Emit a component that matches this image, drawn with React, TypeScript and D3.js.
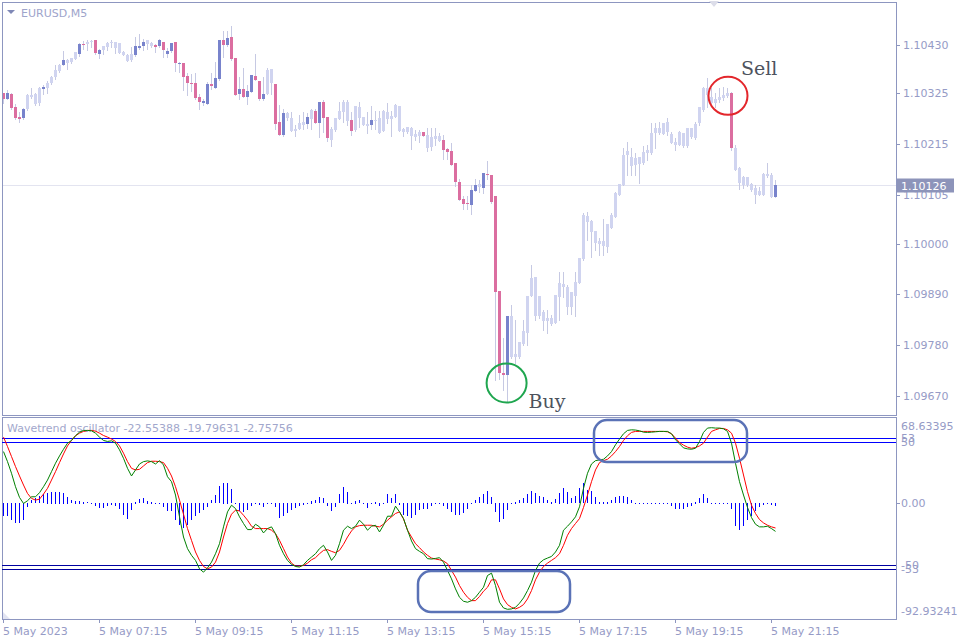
import React from "react";
import * as d3 from "d3";

// ---------- price data (EURUSD, M5) ----------
const open = [
  1.10326,1.10313,1.10324,1.10295,1.10274,1.10272,1.10291,1.10321,1.10302,1.10304,
  1.10334,1.10336,1.10347,1.10360,1.10373,1.10386,1.10397,1.10393,1.10399,1.10410,
  1.10432,1.10432,1.10436,1.10440,1.10410,1.10419,1.10425,1.10434,1.10436,1.10434,
  1.10414,1.10408,1.10397,1.10408,1.10423,1.10427,1.10432,1.10434,1.10430,1.10427,
  1.10436,1.10410,1.10417,1.10436,1.10388,1.10391,1.10362,1.10347,1.10347,1.10317,
  1.10304,1.10302,1.10345,1.10336,1.10356,1.10440,1.10430,1.10447,1.10401,1.10324,
  1.10334,1.10317,1.10328,1.10362,1.10352,1.10313,1.10324,1.10378,1.10345,1.10263,
  1.10235,1.10282,1.10271,1.10243,1.10248,1.10256,1.10258,1.10269,1.10287,1.10261,
  1.10306,1.10274,1.10224,1.10245,1.10269,1.10285,1.10306,1.10267,1.10245,1.10295,
  1.10274,1.10258,1.10256,1.10267,1.10271,1.10243,1.10285,1.10269,1.10274,1.10297,
  1.10248,1.10241,1.10250,1.10237,1.10233,1.10241,1.10235,1.10209,1.10226,1.10233,
  1.10224,1.10204,1.10200,1.10174,1.10133,1.10096,1.10088,1.10083,1.10113,1.10122,
  1.10120,1.10150,1.10148,1.10103,1.09897,1.09719,1.09715,1.09843,1.09754,1.09754,
  1.09782,1.09806,1.09886,1.09927,1.09843,1.09852,1.09832,1.09839,1.09828,1.09884,
  1.09912,1.09906,1.09862,1.09886,1.09914,1.09966,1.10059,1.10048,1.10027,1.10005,
  1.09994,1.09992,1.10033,1.10057,1.10105,1.10126,1.10191,1.10187,1.10170,1.10187,
  1.10174,1.10196,1.10196,1.10239,1.10250,1.10237,1.10263,1.10237,1.10220,1.10213,
  1.10239,1.10211,1.10250,1.10228,1.10261,1.10289,1.10336,1.10317,1.10304,1.10310,
  1.10315,1.10319,1.10326,1.10207,1.10163,1.10126,1.10144,1.10129,1.10120,1.10105,
  1.10105,1.10150,1.10148,1.10100,
];
const high = [
  1.10326,1.10332,1.10326,1.10302,1.10285,1.10293,1.10324,1.10336,1.10326,1.10339,
  1.10343,1.10352,1.10362,1.10386,1.10388,1.10417,1.10399,1.10401,1.10414,1.10434,
  1.10438,1.10440,1.10440,1.10440,1.10421,1.10427,1.10436,1.10440,1.10436,1.10434,
  1.10417,1.10410,1.10425,1.10447,1.10453,1.10443,1.10440,1.10436,1.10432,1.10443,
  1.10436,1.10423,1.10434,1.10436,1.10393,1.10391,1.10369,1.10367,1.10369,1.10324,
  1.10313,1.10349,1.10369,1.10393,1.10440,1.10460,1.10460,1.10471,1.10401,1.10360,
  1.10380,1.10343,1.10365,1.10410,1.10352,1.10360,1.10380,1.10378,1.10345,1.10300,
  1.10291,1.10285,1.10285,1.10256,1.10278,1.10285,1.10282,1.10291,1.10291,1.10306,
  1.10310,1.10274,1.10252,1.10271,1.10306,1.10310,1.10310,1.10285,1.10297,1.10306,
  1.10274,1.10285,1.10297,1.10287,1.10287,1.10289,1.10304,1.10287,1.10302,1.10297,
  1.10250,1.10252,1.10252,1.10245,1.10245,1.10241,1.10250,1.10250,1.10250,1.10239,
  1.10235,1.10207,1.10217,1.10174,1.10139,1.10103,1.10103,1.10126,1.10139,1.10137,
  1.10152,1.10178,1.10148,1.10103,1.09897,1.09795,1.09843,1.09867,1.09834,1.09787,
  1.09834,1.09886,1.09953,1.09927,1.09886,1.09856,1.09856,1.09845,1.09888,1.09938,
  1.09938,1.09910,1.09895,1.09938,1.09968,1.10066,1.10068,1.10051,1.10027,1.10012,
  1.10053,1.10042,1.10066,1.10111,1.10129,1.10207,1.10220,1.10207,1.10196,1.10187,
  1.10211,1.10213,1.10261,1.10261,1.10263,1.10261,1.10271,1.10241,1.10228,1.10243,
  1.10239,1.10250,1.10250,1.10263,1.10295,1.10339,1.10358,1.10336,1.10326,1.10336,
  1.10339,1.10336,1.10328,1.10213,1.10165,1.10146,1.10144,1.10131,1.10126,1.10122,
  1.10152,1.10174,1.10152,1.10137,
];
const low = [
  1.10304,1.10313,1.10291,1.10269,1.10263,1.10269,1.10289,1.10315,1.10300,1.10300,
  1.10324,1.10326,1.10345,1.10356,1.10371,1.10386,1.10378,1.10391,1.10399,1.10406,
  1.10421,1.10419,1.10425,1.10410,1.10401,1.10410,1.10419,1.10425,1.10412,1.10412,
  1.10408,1.10395,1.10395,1.10406,1.10421,1.10419,1.10421,1.10425,1.10414,1.10425,
  1.10404,1.10404,1.10414,1.10373,1.10371,1.10332,1.10321,1.10330,1.10313,1.10291,
  1.10300,1.10302,1.10334,1.10336,1.10354,1.10404,1.10427,1.10397,1.10321,1.10313,
  1.10317,1.10302,1.10328,1.10354,1.10310,1.10310,1.10324,1.10324,1.10248,1.10235,
  1.10233,1.10267,1.10243,1.10233,1.10248,1.10248,1.10250,1.10248,1.10261,1.10230,
  1.10241,1.10222,1.10211,1.10243,1.10269,1.10263,1.10256,1.10235,1.10243,1.10252,
  1.10256,1.10239,1.10248,1.10248,1.10239,1.10243,1.10261,1.10233,1.10274,1.10243,
  1.10233,1.10239,1.10204,1.10224,1.10220,1.10233,1.10200,1.10202,1.10213,1.10222,
  1.10183,1.10183,1.10170,1.10124,1.10094,1.10075,1.10075,1.10064,1.10113,1.10111,
  1.10109,1.10139,1.10088,1.09704,1.09706,1.09683,1.09657,1.09752,1.09741,1.09752,
  1.09780,1.09780,1.09886,1.09834,1.09839,1.09813,1.09806,1.09823,1.09828,1.09834,
  1.09884,1.09847,1.09847,1.09843,1.09914,1.09964,1.10007,1.09971,1.09986,1.09975,
  1.09975,1.09981,1.10033,1.10057,1.10105,1.10126,1.10148,1.10148,1.10148,1.10131,
  1.10172,1.10181,1.10194,1.10207,1.10237,1.10237,1.10235,1.10217,1.10202,1.10213,
  1.10209,1.10209,1.10228,1.10226,1.10256,1.10287,1.10295,1.10304,1.10295,1.10306,
  1.10310,1.10317,1.10202,1.10159,1.10118,1.10120,1.10124,1.10113,1.10088,1.10105,
  1.10105,1.10144,1.10100,1.10100,
];
const close = [
  1.10313,1.10326,1.10293,1.10272,1.10269,1.10291,1.10321,1.10317,1.10324,1.10336,
  1.10339,1.10347,1.10360,1.10375,1.10386,1.10397,1.10391,1.10401,1.10414,1.10432,
  1.10430,1.10436,1.10438,1.10412,1.10419,1.10427,1.10434,1.10436,1.10423,1.10412,
  1.10408,1.10395,1.10410,1.10427,1.10427,1.10436,1.10440,1.10427,1.10425,1.10440,
  1.10419,1.10417,1.10434,1.10391,1.10391,1.10360,1.10347,1.10345,1.10315,1.10306,
  1.10308,1.10345,1.10341,1.10358,1.10440,1.10430,1.10445,1.10399,1.10321,1.10334,
  1.10317,1.10330,1.10365,1.10354,1.10313,1.10324,1.10375,1.10347,1.10258,1.10235,
  1.10282,1.10271,1.10243,1.10248,1.10261,1.10263,1.10274,1.10289,1.10261,1.10306,
  1.10271,1.10228,1.10248,1.10271,1.10287,1.10306,1.10265,1.10243,1.10297,1.10271,
  1.10256,1.10254,1.10267,1.10265,1.10239,1.10287,1.10269,1.10276,1.10300,1.10243,
  1.10241,1.10252,1.10233,1.10230,1.10241,1.10233,1.10207,1.10230,1.10233,1.10222,
  1.10202,1.10198,1.10170,1.10133,1.10094,1.10085,1.10085,1.10116,1.10126,1.10129,
  1.10152,1.10148,1.10090,1.09895,1.09719,1.09715,1.09843,1.09754,1.09761,1.09787,
  1.09810,1.09886,1.09925,1.09843,1.09886,1.09832,1.09839,1.09826,1.09888,1.09914,
  1.09906,1.09862,1.09895,1.09916,1.09968,1.10062,1.10046,1.10025,1.10001,1.09999,
  1.10005,1.10042,1.10062,1.10109,1.10129,1.10191,1.10200,1.10168,1.10185,1.10172,
  1.10198,1.10202,1.10239,1.10250,1.10239,1.10261,1.10241,1.10217,1.10213,1.10241,
  1.10211,1.10250,1.10230,1.10258,1.10295,1.10336,1.10321,1.10304,1.10313,1.10317,
  1.10321,1.10326,1.10207,1.10159,1.10131,1.10144,1.10126,1.10116,1.10105,1.10113,
  1.10150,1.10146,1.10100,1.10126,
];
// bars drawn in full colour (the rest are faded in the reference)
const highlighted = [
  0,1,2,3,4,5,10,15,19,20,23,24,33,34,35,38,39,40,41,42,43,44,45,46,47,48,49,50,
  51,52,53,54,55,56,57,58,59,60,61,62,63,64,65,68,69,70,76,78,79,80,81,87,92,105,
  110,111,112,113,114,115,116,117,118,120,121,122,123,124,125,126,182,193,
];

// ---------- Wavetrend oscillator ----------
const wt1 = [
  41.9,33.8,24.4,13.5,4.9,0,2.2,5.4,5.4,8.7,
  13.5,18.9,25.7,32.5,38.4,43.8,48.7,50.9,54.7,57.6,
  59.0,59.0,58.7,56.8,53.6,50.9,50.1,50.6,48.7,43.3,
  36.5,28.4,22.2,27.1,31.9,33.8,34.4,33.8,31.9,34.6,
  31.1,21.6,17.6,6.8,-10.8,-27.1,-36.5,-41.9,-46.0,-52.8,
  -55.5,-52.0,-47.4,-40.6,-32.5,-18.9,-6.8,-1.4,-4.1,-10.8,
  -16.2,-21.1,-21.1,-16.8,-18.9,-23.8,-20.3,-18.9,-24.4,-33.8,
  -40.6,-46.0,-49.2,-50.9,-51.4,-49.5,-46.0,-43.3,-40.6,-36.5,
  -33.8,-39.2,-46.0,-41.9,-32.5,-21.6,-18.4,-20.3,-18.4,-13.5,
  -16.8,-21.6,-18.4,-17.6,-23.0,-17.6,-10.3,-10.3,-2.2,-6.8,
  -12.2,-21.6,-30.3,-36.5,-38.7,-40.6,-44.6,-44.9,-44.4,-43.8,
  -47.4,-54.1,-60.9,-69.0,-75.8,-79.0,-79.8,-78.5,-75.8,-71.7,
  -67.7,-58.2,-56.3,-66.3,-79.8,-84.4,-85.5,-85.2,-83.9,-80.6,
  -76.3,-70.4,-63.6,-54.1,-48.2,-45.5,-44.1,-42.8,-39.2,-33.8,
  -21.6,-18.4,-14.9,-10.8,-2.7,12.2,24.4,31.9,34.6,35.2,
  35.7,38.4,41.9,47.4,52.0,56.3,59.0,59.5,59.3,58.7,
  57.6,57.4,57.6,57.9,58.2,58.2,58.2,56.3,51.4,48.2,
  44.9,44.1,43.8,44.6,50.1,57.4,60.9,61.2,60.9,60.9,
  60.3,58.2,48.7,32.5,17.6,6.8,-3.2,-11.4,-16.8,-18.9,
  -18.9,-18.4,-20.3,-22.55,
];
const wt2 = [
  53.6,46.0,37.9,29.8,22.2,14.9,8.1,4.1,2.7,3.5,
  7.6,12.2,18.9,25.7,33.0,40.0,46.5,50.9,54.7,56.8,
  58.2,59.0,59.0,58.4,56.8,54.9,53.6,52.0,50.1,46.5,
  40.6,33.8,28.4,27.1,27.6,30.3,33.0,34.1,34.1,33.8,
  33.0,28.4,22.2,13.5,2.7,-8.7,-20.3,-29.8,-39.2,-46.0,
  -50.9,-52.8,-51.4,-47.4,-39.2,-27.1,-16.2,-8.7,-5.4,-6.0,
  -9.5,-13.5,-18.4,-20.3,-20.3,-20.3,-20.3,-21.6,-24.4,-29.8,
  -36.5,-43.3,-48.2,-50.6,-50.6,-50.1,-48.2,-45.5,-43.8,-40.6,
  -37.9,-37.3,-38.7,-39.8,-37.9,-33.0,-27.1,-22.2,-18.9,-17.9,
  -17.6,-17.6,-17.6,-18.4,-18.9,-16.8,-13.5,-10.8,-8.1,-6.8,
  -12.5,-21.6,-27.1,-32.5,-35.7,-39.2,-41.9,-44.1,-44.9,-45.5,
  -46.5,-48.7,-54.1,-59.5,-66.3,-71.7,-75.8,-78.5,-78.5,-75.2,
  -70.9,-67.7,-61.7,-61.7,-69.0,-77.1,-81.7,-83.9,-85.2,-83.9,
  -81.7,-77.1,-70.4,-61.7,-55.5,-50.9,-48.2,-46.0,-43.8,-40.6,
  -33.8,-25.7,-20.3,-16.2,-12.2,-3.2,6.8,17.6,27.1,33.0,
  34.6,35.7,38.4,41.9,46.0,50.9,54.7,57.4,58.2,58.2,
  58.2,58.2,58.2,58.2,58.2,58.2,57.9,56.3,52.8,49.2,
  47.1,45.5,44.6,45.2,46.5,48.7,53.6,58.2,59.5,60.6,
  60.6,59.5,56.8,48.7,36.5,23.0,9.5,-1.4,-8.1,-13.0,
  -15.7,-17.6,-18.9,-19.80,
];
const hist = [
  -10.8,-10.8,-13.5,-16.2,-16.2,-13.5,-3.2,2.7,4.1,6.0,
  7.6,8.7,9.5,9.5,9.5,8.7,5.4,2.7,2.2,2.2,
  1.4,0.8,0.3,-2.2,-4.1,-4.1,-2.2,-1.4,-2.7,-4.9,
  -9.5,-12.7,-5.4,1.4,3.2,4.1,2.2,1.4,0.3,0.5,
  -3.2,-6.8,-6.8,-13.5,-17.6,-20.3,-17.6,-13.5,-10.3,-8.1,
  -6.0,-3.2,2.7,6.8,14.1,16.8,16.8,11.4,0.5,-6.8,
  -7.6,-6.0,-2.7,0.5,-1.4,-3.2,0.3,0.3,-3.2,-12.2,
  -10.8,-8.1,-5.4,-4.1,-2.2,-1.4,0.5,2.2,2.7,4.9,
  4.1,-2.2,-6.8,-3.2,7.6,13.0,9.5,0.3,2.2,2.7,
  -0.5,-4.1,0.5,1.4,-2.2,0.3,7.6,4.1,7.6,-1.4,
  -9.5,-10.8,-12.2,-9.5,-5.4,-4.9,-4.9,-2.7,0.0,0.3,
  -2.2,-4.9,-7.6,-9.5,-9.5,-8.1,-4.9,0.5,2.7,4.9,
  7.6,10.3,5.4,-7.6,-15.7,-13.0,-5.4,-0.5,1.4,2.7,
  4.1,7.6,10.3,8.1,6.0,4.9,2.7,1.4,3.2,8.7,
  12.2,9.5,4.1,6.0,12.2,16.2,10.8,10.3,5.4,1.4,
  1.4,1.4,2.7,4.9,6.0,6.0,5.4,2.7,0.5,0.5,
  0.5,0.5,0.0,0.5,0.3,0.3,0.3,-2.2,-4.9,-4.9,
  -4.9,-3.2,-2.2,1.4,4.1,7.6,4.1,0.5,0.3,0.3,
  0.3,0.3,-4.9,-18.4,-21.6,-18.4,-13.5,-10.3,-6.8,-3.2,
  -1.4,-0.5,-1.4,-2.76,
];

// ---------- axes / labels ----------
const symbolTitle = "EURUSD,M5";
const oscTitle = "Wavetrend oscillator -22.55388 -19.79631 -2.75756";
const priceTicks = [1.1043, 1.10325, 1.10215, 1.10105, 1.1, 1.0989, 1.0978, 1.0967];
const priceTickLabels = ["1.10430", "1.10325", "1.10215", "1.10105", "1.10000", "1.09890", "1.09780", "1.09670"];
const lastPrice = 1.10126;
const lastPriceLabel = "1.10126";
const oscMax = 68.63395;
const oscMin = -92.93241;
const oscMaxLabel = "68.63395";
const oscMinLabel = "-92.93241";
const oscLevels = [53, 50, -50, -53];
const oscLevelLabels = ["53", "50", "-50", "-53"];
const timeLabels = [
  "5 May 2023", "5 May 07:15", "5 May 09:15", "5 May 11:15", "5 May 13:15",
  "5 May 15:15", "5 May 17:15", "5 May 19:15", "5 May 21:15",
];
const barsPerTimeLabel = 24;

// annotation anchors (bar index / price or oscillator value)
const sellMark = { bar: 181.25, price: 1.1032, text: "Sell" };
const buyMark = { bar: 125.9, price: 1.09698, text: "Buy" };
const topZone = { from: 147.75, to: 186, hi: 67.4, lo: 33.5 };
const bottomZone = { from: 103.75, to: 141.75, hi: -54.6, lo: -87.7 };

const BLUE = "#7883cc";
const PINK = "#db6ea0";
const LIGHT = "#d0d4f0";
const WICK = "#c6c9e3";
const AXIS = "#8d96c0";
const TEXT = "#969bc6";
const FONT = "'DejaVu Sans', Verdana, sans-serif";

export default function App() {
  const n = close.length;
  const L = 2, R = 896;
  const mainTop = 2, mainBottom = 415;
  const subTop = 417, subBottom = 619;

  const x = d3.scaleLinear().domain([0, n - 1]).range([3, 3 + 4 * (n - 1)]);
  const y = d3.scaleLinear().domain([1.0967, 1.1043]).range([396, 45]);
  const yo = d3.scaleLinear().domain([oscMin, oscMax]).range([618.5, 418.5]);
  const hl = new Set(highlighted);

  const line = d3
    .line<number>()
    .x((_, i) => x(i) + 0.5)
    .y((d) => yo(d));

  const yLast = Math.round(y(lastPrice)) + 0.5;

  return (
    <svg
      width={960}
      height={640}
      style={{ position: "fixed", left: 0, top: 0, background: "#fff" }}
      fontFamily={FONT}
    >
      <rect x={0} y={0} width={960} height={640} fill="#fff" />

      {/* last price line */}
      <line x1={L} x2={R} y1={yLast} y2={yLast} stroke="#e3e4f0" />

      {/* candles */}
      <g shapeRendering="crispEdges">
        {close.map((c, i) => {
          const o = open[i];
          const cx = x(i);
          const fill = hl.has(i) ? (c >= o ? BLUE : PINK) : LIGHT;
          const yt = Math.round(y(Math.max(o, c)));
          const yb = Math.round(y(Math.min(o, c)));
          return (
            <g key={i}>
              <line
                x1={cx + 0.5}
                x2={cx + 0.5}
                y1={Math.round(y(high[i]))}
                y2={Math.round(y(low[i])) + 1}
                stroke={WICK}
              />
              <rect x={cx - 1} y={yt} width={3} height={Math.max(1, yb - yt)} fill={fill} />
            </g>
          );
        })}
      </g>

      {/* main frame */}
      <rect x={L + 0.5} y={mainTop + 0.5} width={R - L} height={mainBottom - mainTop} fill="none" stroke={AXIS} shapeRendering="crispEdges" />
      <polygon points="709,1 719,1 714,7" fill="#dcdde9" />

      {/* title */}
      <polygon points="7,10 15,10 11,14" fill="#7f88b6" />
      <text x={21} y={17} fontSize={11} fill="#9ea4cb">{symbolTitle}</text>

      {/* price axis */}
      {priceTicks.map((v, k) => (
        <g key={k}>
          <line x1={R} x2={R + 4} y1={Math.round(y(v)) + 0.5} y2={Math.round(y(v)) + 0.5} stroke={AXIS} />
          <text x={903} y={y(v) + 4} fontSize={11} fill={TEXT}>{priceTickLabels[k]}</text>
        </g>
      ))}
      <rect x={897} y={yLast - 7} width={57} height={14} fill="#8d94ba" />
      <text x={901} y={yLast + 4} fontSize={11} fill="#fff">{lastPriceLabel}</text>

      {/* sub window */}
      <rect x={L + 0.5} y={subTop + 0.5} width={R - L} height={subBottom - subTop} fill="none" stroke={AXIS} shapeRendering="crispEdges" />
      <polygon points="3,612 3,619 10,619" fill="#e2e4f2" />
      <text x={7} y={432} fontSize={11} fill="#a2a7cc">{oscTitle}</text>

      {oscLevels.map((v, k) => (
        <line key={k} x1={L} x2={R} y1={Math.round(yo(v)) + 0.5} y2={Math.round(yo(v)) + 0.5} stroke={v > 0 ? "#0000ff" : "#0000a0"} shapeRendering="crispEdges" />
      ))}

      <g shapeRendering="crispEdges">
        {hist.map((v, i) => (
          <rect
            key={i}
            x={x(i)}
            y={Math.round(Math.min(yo(0), yo(v)))}
            width={1}
            height={Math.max(1, Math.round(Math.abs(yo(v) - yo(0))))}
            fill="#0000ff"
          />
        ))}
      </g>
      <path d={line(wt2) || ""} fill="none" stroke="#ff0000" strokeWidth={1} />
      <path d={line(wt1) || ""} fill="none" stroke="#008000" strokeWidth={1} />

      {/* oscillator axis labels */}
      <text x={901} y={yo(oscMax) + 11} fontSize={11} fill={TEXT}>{oscMaxLabel}</text>
      <text x={901} y={yo(oscMin) - 4} fontSize={11} fill={TEXT}>{oscMinLabel}</text>
      <line x1={R} x2={R + 4} y1={Math.round(yo(0)) + 0.5} y2={Math.round(yo(0)) + 0.5} stroke={AXIS} />
      <text x={901} y={yo(0) + 4} fontSize={11} fill={TEXT}>0.00</text>
      {oscLevels.map((v, k) => (
        <text key={k} x={901} y={yo(v) + 4} fontSize={11} fill={TEXT}>{oscLevelLabels[k]}</text>
      ))}

      {/* time axis */}
      {timeLabels.map((t, k) => {
        const xi = x(k * barsPerTimeLabel);
        return (
          <g key={k}>
            <line x1={xi + 0.5} x2={xi + 0.5} y1={subBottom} y2={subBottom + 4} stroke={AXIS} />
            <text x={xi} y={635} fontSize={11} fill={TEXT}>{t}</text>
          </g>
        );
      })}

      {/* annotations */}
      <ellipse cx={x(sellMark.bar)} cy={y(sellMark.price)} rx={19.5} ry={19} fill="none" stroke="#e3262b" strokeWidth={2} />
      <text x={x(sellMark.bar) + 13} y={y(sellMark.price) - 21} fontSize={19} fill="#4d535d" fontFamily="'DejaVu Serif', serif">{sellMark.text}</text>
      <ellipse cx={x(buyMark.bar)} cy={y(buyMark.price)} rx={20} ry={19.5} fill="none" stroke="#1fa64f" strokeWidth={2} />
      <text x={x(buyMark.bar) + 22} y={y(buyMark.price) + 25} fontSize={19} fill="#4d535d" fontFamily="'DejaVu Serif', serif">{buyMark.text}</text>

      {[topZone, bottomZone].map((z, k) => (
        <rect
          key={k}
          x={x(z.from)}
          y={yo(z.hi)}
          width={x(z.to) - x(z.from)}
          height={yo(z.lo) - yo(z.hi)}
          rx={13}
          ry={13}
          fill="none"
          stroke="#5a72b6"
          strokeWidth={2.5}
        />
      ))}
    </svg>
  );
}
